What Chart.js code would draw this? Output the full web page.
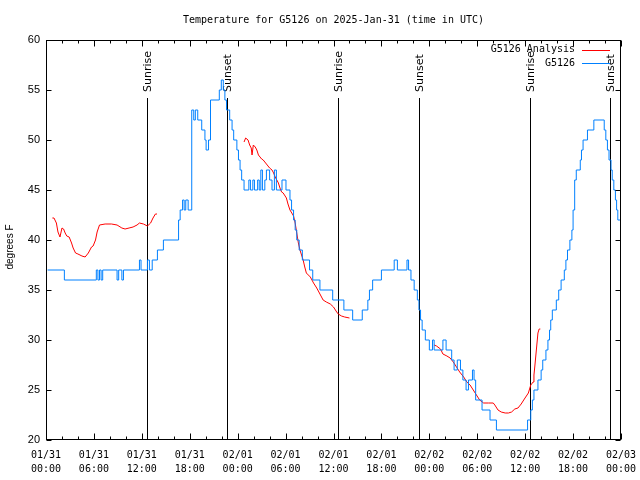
<!DOCTYPE html>
<html>
<head>
<meta charset="utf-8">
<script src="https://cdn.jsdelivr.net/npm/chart.js@4.4.1/dist/chart.umd.min.js"></script>
<style>
  body { margin: 0; background: #fff; }
  canvas { display: block; }
</style>
</head>
<body>
<canvas id="chart" width="640" height="480"></canvas>
<script>
// hours since 2025-01-31 00:00 UTC

// G5126 observations (value holds until the next change)
var obsHours = [0.2, 2.3, 6.3, 6.5, 6.7, 6.9, 7.1, 8.9, 9.1, 9.5, 9.7, 11.7, 11.9, 12.7, 12.95, 13.3, 13.95, 14.7,
  16.6, 16.8, 17.1, 17.3, 17.5, 17.8, 18.25, 18.5, 18.7, 19.0, 19.5, 19.9, 20.05, 20.35, 20.6, 21.7, 21.95, 22.2,
  22.4, 22.6, 23.0, 23.3, 23.5, 23.9, 24.1, 24.3, 24.5, 24.8, 25.4, 25.6, 25.9, 26.1, 26.5, 26.7, 26.9, 27.1,
  27.4, 27.6, 28.0, 28.3, 28.6, 28.85, 29.55, 30.05, 30.55, 30.75, 31.0, 31.2, 31.4, 31.7, 32.1, 33.0, 33.4,
  34.3, 35.9, 37.3, 38.4, 39.6, 40.3, 40.5, 40.9, 42.0, 43.6, 44.0, 45.2, 45.4, 45.7, 46.1, 46.5, 46.7, 46.9,
  47.1, 47.5, 48.0, 48.4, 48.6, 49.7, 50.1, 50.8, 51.1, 51.5, 51.9, 52.2, 52.6, 52.9, 53.4, 53.6, 53.8, 54.6,
  55.6, 56.4, 60.3, 60.7, 60.9, 61.1, 61.6, 62.0, 62.2, 62.6, 62.85, 63.05, 63.2, 63.4, 63.9, 64.2, 64.5, 64.9,
  65.1, 65.3, 65.6, 65.85, 66.0, 66.2, 66.4, 66.9, 67.05, 67.25, 67.8, 68.6, 69.9, 70.1, 70.3, 70.5, 70.75,
  70.9, 71.1, 71.3, 71.45, 71.6, 71.95];
var obsTemps = [37, 36, 37, 36, 37, 36, 37, 36, 37, 36, 37, 38, 37, 38, 37, 38, 39, 40,
  42, 43, 44, 43, 44, 43, 53, 52, 53, 52, 51, 50, 49, 50, 54, 55, 56, 55,
  54, 53, 52, 51, 50, 49, 48, 47, 46, 45, 46, 45, 46, 45, 46, 45, 47, 45,
  46, 47, 46, 45, 47, 45, 46, 45, 44, 43, 42, 41, 40, 39, 38, 37, 36,
  35, 34, 33, 32, 33, 34, 35, 36, 37, 38, 37, 38, 37, 36, 35, 34, 33, 32,
  31, 30, 29, 30, 29, 30, 29, 28, 27, 28, 27, 26, 25, 26, 27, 26, 24, 23,
  22, 21, 22, 23, 24, 25, 26, 27, 28, 29, 30, 31, 32, 33, 34, 35, 36, 37,
  38, 39, 40, 41, 43, 46, 47, 48, 49, 50, 51, 52, 51, 50, 49, 48, 47,
  46, 45, 44, 43, 42, 42];

// G5126 Analysis (null = gap)
var anaHours = [0.8, 1.0, 1.3, 1.5, 1.75, 2.0, 2.2, 2.4, 2.6, 2.9, 3.2, 3.4, 3.7, 4.0, 4.5, 4.9, 5.3, 5.7, 5.9,
  6.2, 6.4, 6.7, 7.4, 8.2, 8.9, 9.5, 9.9, 10.4, 10.9, 11.4, 11.7, 12.2, 12.7, 13.1, 13.4, 13.7, 13.9, 14.0,
  24.8, 25.0, 25.3, 25.5, 25.7, 25.8, 25.96, 26.2, 26.4, 26.6, 26.8, 27.0, 27.2, 27.4, 27.6, 27.8, 28.0, 28.3,
  28.5, 28.7, 28.9, 29.1, 29.3, 29.5, 29.7, 30.1, 30.3, 30.55, 31.0, 31.2, 31.4, 31.6, 31.8, 32.0, 32.2, 32.4,
  32.6, 33.1, 33.5, 33.9, 34.3, 34.7, 35.1, 35.6, 36.0, 36.4, 36.6, 37.0, 37.4, 38.0, 38.1,
  48.6, 48.9, 49.4, 49.7, 50.2, 50.6, 51.0, 51.4, 51.8, 52.3, 52.7, 53.1, 53.5, 53.9, 54.3, 54.8, 55.4, 56.0,
  56.2, 56.6, 57.0, 57.5, 57.9, 58.3, 58.7, 59.1, 59.5, 59.9, 60.4, 60.7, 61.0, 61.1, 61.2, 61.4, 61.6, 61.75, 61.9];
var anaTemps = [42.2, 42.2, 41.7, 40.8, 40.3, 41.2, 41.1, 40.7, 40.4, 40.3, 39.7, 39.2, 38.7, 38.6, 38.4, 38.3, 38.7, 39.3, 39.4,
  40.0, 40.8, 41.5, 41.6, 41.6, 41.5, 41.2, 41.1, 41.2, 41.3, 41.5, 41.7, 41.6, 41.4, 41.7, 42.2, 42.6, 42.6, null,
  49.8, 50.2, 50.0, 49.5, 49.2, 48.5, 49.5, 49.3, 49.0, 48.5, 48.3, 48.1, 48.0, 47.8, 47.6, 47.4, 47.2, 47.0,
  46.7, 46.3, 46.0, 45.7, 45.2, 44.8, 44.7, 44.2, 43.6, 43.0, 42.4, 41.7, 40.7, 39.7, 39.0, 38.5, 38.0, 37.3,
  36.7, 36.3, 35.7, 35.2, 34.6, 34.0, 33.8, 33.6, 33.3, 32.8, 32.6, 32.4, 32.3, 32.2, null,
  29.5, 29.4, 29.1, 28.6, 28.4, 28.2, 27.8, 27.3, 26.8, 26.3, 25.8, 25.5, 25.0, 24.5, 24.0, 23.7, 23.7, 23.7,
  23.5, 23.0, 22.8, 22.7, 22.7, 22.8, 23.1, 23.2, 23.6, 24.1, 24.7, 25.5, 25.8, 26.5, 27.3, 29.0, 30.7, 31.1, 31.1];

var eventHours = [12.68, 22.70, 36.60, 46.74, 60.64, 70.66];
var eventNames = ['Sunrise', 'Sunset', 'Sunrise', 'Sunset', 'Sunrise', 'Sunset'];

var dayLabels = ['01/31', '02/01', '02/02', '02/03'];
var timeLabels = ['00:00', '06:00', '12:00', '18:00'];

var titleText = 'Temperature for G5126 on 2025-Jan-31 (time in UTC)';
var mono = '"DejaVu Sans Mono", monospace';
var sans = '"Liberation Sans", Arial, sans-serif';
var red = 'rgb(255,0,0)';
var blue = 'rgb(0,128,255)';

function toPoints(xs, ys) {
    let pts = [];
    for (let i = 0; i < xs.length; i++) {
        pts.push({x: xs[i], y: ys[i]});
    }
    return pts;
}

var extras = {
    id: 'extras',
    beforeDatasetsDraw(chart) {
        const ctx = chart.ctx;
        const x = chart.scales.x, y = chart.scales.y;
        ctx.save();
        ctx.strokeStyle = '#000';
        ctx.fillStyle = '#000';
        ctx.lineWidth = 1;
        ctx.font = '11px "DejaVu Sans", sans-serif';
        for (let i = 0; i < eventHours.length; i++) {
            const px = Math.round(x.getPixelForValue(eventHours[i])) + 0.5;
            ctx.beginPath();
            ctx.moveTo(px, y.getPixelForValue(20));
            ctx.lineTo(px, y.getPixelForValue(54.2));
            ctx.stroke();
            ctx.save();
            ctx.translate(px + 1, y.getPixelForValue(54.8));
            ctx.rotate(-Math.PI / 2);
            ctx.textAlign = 'left';
            ctx.textBaseline = 'middle';
            ctx.fillText(eventNames[i], 0, 0);
            ctx.restore();
        }
        ctx.restore();
    },
    afterDraw(chart) {
        const ctx = chart.ctx;
        const a = chart.chartArea;
        const x = chart.scales.x, y = chart.scales.y;
        ctx.save();
        ctx.strokeStyle = '#000';
        ctx.lineWidth = 1;
        const L = Math.round(a.left) + 0.5, R = Math.round(a.right) - 0.5;
        const T = Math.round(a.top) + 0.5, B = Math.round(a.bottom) - 0.5;

        // inward tick marks on all four sides
        ctx.beginPath();
        x.ticks.forEach(t => {
            const px = Math.round(x.getPixelForValue(t.value)) + 0.5;
            const len = (t.value % 6 === 0) ? 6 : 3;
            ctx.moveTo(px, B); ctx.lineTo(px, B - len);
            ctx.moveTo(px, T); ctx.lineTo(px, T + len);
        });
        y.ticks.forEach(t => {
            const py = Math.round(y.getPixelForValue(t.value)) + 0.5;
            ctx.moveTo(L, py); ctx.lineTo(L + 5, py);
            ctx.moveTo(R, py); ctx.lineTo(R - 5, py);
        });
        ctx.stroke();
        ctx.strokeRect(L, T, R - L, B - T);

        // title
        ctx.fillStyle = '#000';
        ctx.font = '10px ' + mono;
        ctx.textAlign = 'center';
        ctx.textBaseline = 'middle';
        ctx.fillText(titleText, (a.left + a.right) / 2, 20);

        // y axis title
        ctx.save();
        ctx.translate(10, 247);
        ctx.rotate(-Math.PI / 2);
        ctx.font = '10px ' + sans;
        ctx.fillText('degrees F', 0, 0);
        ctx.restore();

        // key
        const names = ['G5126 Analysis', 'G5126'];
        const cols = [red, blue];
        ctx.font = '10px ' + mono;
        ctx.textAlign = 'right';
        for (let i = 0; i < names.length; i++) {
            const ky = 49.5 + i * 13.5;
            ctx.fillStyle = '#000';
            ctx.fillText(names[i], 575, ky);
            ctx.strokeStyle = cols[i];
            ctx.beginPath();
            ctx.moveTo(582, Math.round(ky) + 0.5);
            ctx.lineTo(610, Math.round(ky) + 0.5);
            ctx.stroke();
        }
        ctx.restore();
    }
};

var ctx = document.getElementById('chart');

var chart = new Chart(ctx, {
    type: 'line',
    data: {
        datasets: [{
            label: 'G5126',
            data: toPoints(obsHours, obsTemps),
            borderColor: blue,
            borderWidth: 1,
            stepped: true,
            pointRadius: 0,
            fill: false
        }, {
            label: 'G5126 Analysis',
            data: toPoints(anaHours, anaTemps),
            borderColor: red,
            borderWidth: 1,
            pointRadius: 0,
            spanGaps: false,
            tension: 0,
            fill: false
        }]
    },
    options: {
        responsive: false,
        animation: false,
        devicePixelRatio: 1,
        layout: { padding: { top: 40, right: 19, left: 0, bottom: 0 } },
        plugins: {
            legend: { display: false },
            title: { display: false },
            tooltip: { enabled: false }
        },
        scales: {
            x: {
                type: 'linear',
                min: 0,
                max: 72,
                afterFit: function(scale) {
                    scale.height = 40;
                    scale.paddingLeft = 0;
                    scale.paddingRight = 0;
                },
                grid: { display: false, drawTicks: false },
                border: { display: false },
                ticks: {
                    stepSize: 2,
                    autoSkip: false,
                    maxRotation: 0,
                    padding: 8,
                    color: '#000',
                    font: { family: mono, size: 10, lineHeight: 1.4 },
                    callback: function(v) {
                        if (v % 6 !== 0) return '';
                        return [dayLabels[Math.floor(v / 24)], timeLabels[(v % 24) / 6]];
                    }
                }
            },
            y: {
                min: 20,
                max: 60,
                afterFit: function(scale) {
                    scale.width = 46;
                    scale.paddingTop = 0;
                    scale.paddingBottom = 0;
                },
                grid: { display: false, drawTicks: false },
                border: { display: false },
                ticks: {
                    stepSize: 5,
                    padding: 6,
                    color: '#000',
                    font: { family: sans, size: 11 }
                }
            }
        }
    },
    plugins: [extras]
});
</script>
</body>
</html>
